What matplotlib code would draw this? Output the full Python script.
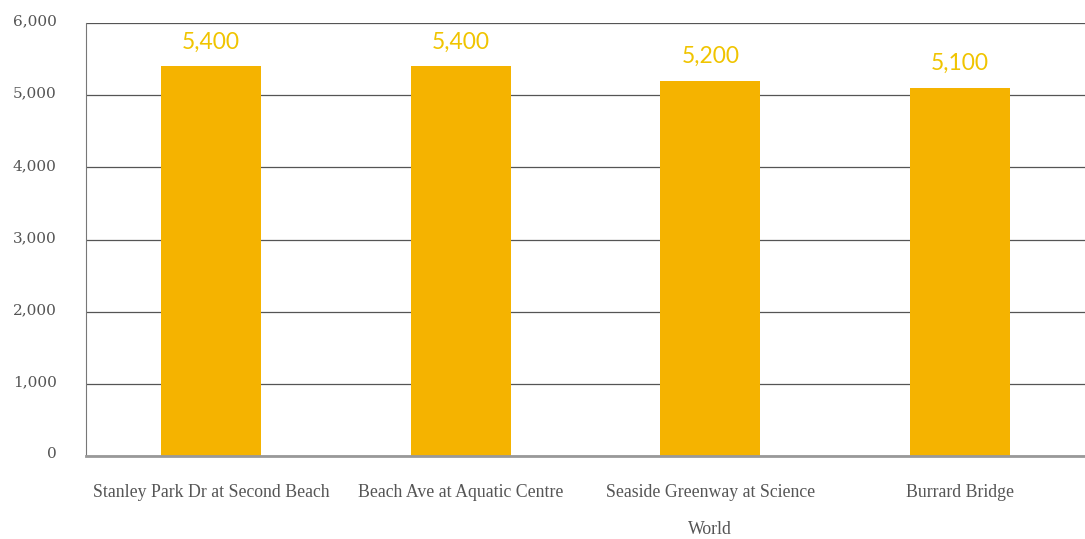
import matplotlib
matplotlib.use("Agg")
import matplotlib.pyplot as plt
from matplotlib.transforms import ScaledTranslation

categories = ["Stanley Park Dr at Second Beach", "Beach Ave at Aquatic Centre",
              "Seaside Greenway at Science\nWorld", "Burrard Bridge"]
values = [5400, 5400, 5200, 5100]
yticks = [0, 1000, 2000, 3000, 4000, 5000, 6000]

fig = plt.figure(figsize=(10.85, 5.39), dpi=100)
ax = fig.add_axes([86/1085, 1-456/539, 1-86/1085, (456-23)/539])

x = list(range(len(categories)))
ax.bar(x, values, width=0.4, color="#F5B300", zorder=3)
for xi, v in zip(x, values):
    ax.text(xi, v + 190, f"{v:,}", ha="center", va="bottom", color="#F0C400",
            fontsize=16.5, family="Lato", zorder=4)

ax.set_xlim(-0.5, len(categories) - 0.5)
ax.set_ylim(0, 6000)
ax.set_yticks(yticks)
ax.set_yticklabels([f"{t:,}" for t in yticks], family="DejaVu Serif",
                   fontsize=11, color="#555555")
ax.set_xticks(x)
ax.set_xticklabels(categories, family="Liberation Serif", fontsize=12.8,
                   color="#555555", linespacing=2.55, va="top")
ax.tick_params(axis="both", length=0)
ax.tick_params(axis="y", pad=21)
ax.tick_params(axis="x", pad=20)
off = ScaledTranslation(0, 3/100, fig.dpi_scale_trans)
for lbl in ax.get_yticklabels():
    lbl.set_transform(lbl.get_transform() + off)
ax.grid(axis="y", color="#555555", linewidth=0.9, zorder=0)
for s in ["top", "right"]:
    ax.spines[s].set_visible(False)
ax.spines["left"].set_color("#777777")
ax.spines["left"].set_linewidth(0.8)
ax.spines["bottom"].set_color("#999999")
ax.spines["bottom"].set_linewidth(2)
ax.spines["bottom"].set_zorder(5)

fig.savefig("out.png", dpi=100)
